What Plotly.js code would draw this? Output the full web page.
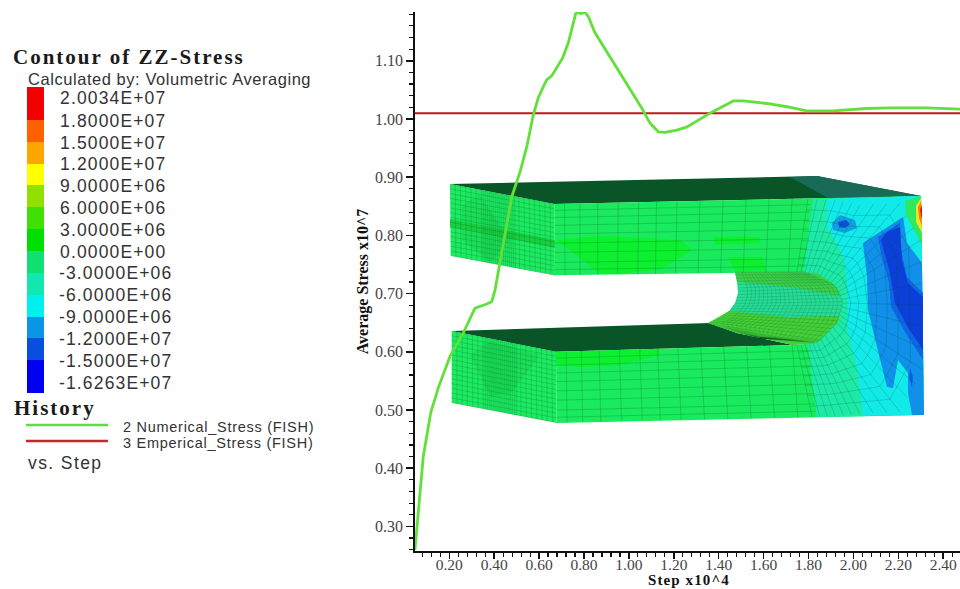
<!DOCTYPE html>
<html><head><meta charset="utf-8">
<script src="https://cdn.plot.ly/plotly-3.0.1.min.js"></script>
<style>html,body{margin:0;padding:0;background:#fff}#chart{width:960px;height:589px}</style>
</head><body><div id="chart"></div>
<script>
// ---------- history curves (Step x10^4, Average Stress x10^7)
const stepNumerical = [0.047,0.0575,0.0695,0.084,0.102,0.117,0.151,0.203,0.265,0.3145,0.367,0.389,0.4036,0.426,0.4557,0.478,0.515,0.545,0.574,0.596,0.622,0.634,0.656,0.678,0.705,0.73,0.748,0.763,0.77,0.785,0.804,0.819,0.849,0.916,0.99,1.057,1.094,1.131,1.161,1.213,1.257,1.294,1.361,1.42,1.465,1.51,1.628,1.703,1.792,1.91,2.059,2.163,2.327,2.475];
const stressNumerical = [0.2595,0.306,0.345,0.42,0.4605,0.495,0.538,0.592,0.6345,0.675,0.682,0.686,0.706,0.7526,0.8144,0.866,0.909,0.952,1.007,1.036,1.058,1.067,1.074,1.088,1.105,1.131,1.158,1.181,1.183,1.181,1.183,1.176,1.148,1.107,1.062,1.019,0.993,0.978,0.977,0.981,0.986,0.995,1.010,1.022,1.031,1.031,1.026,1.021,1.014,1.014,1.018,1.019,1.019,1.017];
const stepEmpirical = [0.047,2.475];
const stressEmpirical = [1.01,1.01];

// ---------- axis ticks
const xTicks = [0.2,0.4,0.6,0.8,1.0,1.2,1.4,1.6,1.8,2.0,2.2,2.4];
const xTickText = ['0.20','0.40','0.60','0.80','1.00','1.20','1.40','1.60','1.80','2.00','2.20','2.40'];
const yTicks = [0.3,0.4,0.5,0.6,0.7,0.8,0.9,1.0,1.1];
const yTickText = ['0.30','0.40','0.50','0.60','0.70','0.80','0.90','1.00','1.10'];

// ---------- contour legend
const contourLabels = ['2.0034E+07','1.8000E+07','1.5000E+07','1.2000E+07','9.0000E+06','6.0000E+06','3.0000E+06','0.0000E+00','-3.0000E+06','-6.0000E+06','-9.0000E+06','-1.2000E+07','-1.5000E+07','-1.6263E+07'];
const bandEdges = [0,1.5,2.5,3.5,4.5,5.5,6.5,7.5,8.5,9.5,10.5,11.5,12.5,14];
const bandColors = ['#0000f0','#0a50e0','#0a96e6','#00f0f0','#10e8b0','#10e070','#00e000','#40e000','#90e000','#ffff00','#ffa500','#ff6000','#f00000'];

// ---------- model geometry (inset axes units), lists of [x,y]
const upperSide = [[450,184],[554.3,204],[555,275.3],[450.7,255.7]];
const upperSideBand = [[450,219],[555,240],[555,248],[450,227]];
const upperSidePatch = [[462,205],[480,195],[510,240],[490,262],[462,240]];
const upperTop = [[450,184],[817,176],[921,196],[554.3,204]];
const upperTopTeal = [[790,177],[817,176],[921,196],[830,199]];
const lowerSide = [[451.7,331],[556,351.7],[556.7,422.7],[451.7,402.7]];
const lowerSidePatch = [[470,355],[490,341],[540,355],[512,392],[490,396]];
const lowerTop = [[451.7,331],[710,323],[737,333],[793,345],[556,351.7]];
const frontFace = [[554.3,204],[921,196],[924,415],[556.7,423],[556,351.7],[793,345],[817,343],[837,323],[843,303],[835,285],[817,273],[793,272],[555,275.3]];
const brightUpperA = [[555,240],[600,236],[680,240],[692,250],[662,269],[620,274],[600,274],[570,250]];
const brightUpperB = [[713,237],[760,237],[760,243],[715,245]];
const brightUpperC = [[728,257],[763,257],[766,270],[735,271]];
const brightLower = [[556,352],[660,349],[660,355],[620,365],[580,367],[556,365]];
const tealZone = [[813,199],[921,196],[924,415],[817,417],[812,380],[808,345],[800,300],[808,240]];
const cyanZone = [[827,199],[921,196],[924,415],[863,415],[857,367],[847,327],[848,300],[845,263],[837,243],[827,227]];
const lightBlueZone = [[903,217],[863,243],[867,277],[868,310],[877,347],[887,387],[893,388],[898,360],[908,373],[908,393],[912,415],[924,415],[923,360],[922,263],[907,243]];
const midBlueZone = [[900,223],[878,237],[881,253],[889,283],[891,307],[905,332],[923,360],[923,293],[907,277],[901,250]];
const darkBlueZone = [[887,232],[900,227],[902,260],[908,283],[923,297],[923,350],[907,326],[895,303],[890,273],[881,240]];
const spotOuter = [[832,223],[840,215],[855,220],[857,228],[845,233],[833,230]];
const spotInner = [[838,222],[846,220],[850,224],[845,228],[839,227]];
const sliverBlue = [[910,368],[913,377],[912,387],[909,377]];
const hotGreen = [[921,196],[905,201],[906,215],[915,232],[922,245]];
const hotYellow = [[921,198],[916,206],[916,222],[922,233]];
const hotOrange = [[921,201],[918,207],[919,218],[922,226]];
const hotRed = [[922,205],[920,210],[921,215],[922,219]];
const boreNear = [[735,272],[737,282],[738,293],[735,303],[729,311],[720,318],[708,323]];
const bore = [[735,272],[793,272],[817,273],[835,285],[843,303],[837,323],[817,343],[793,345],[737,333],[708,323],[720,318],[729,311],[735,303],[738,293],[737,282]];
const boreTop = [[735,272],[793,272],[817,273],[835,285],[841,296],[790,287],[737,282]];
const boreBottom = [[708,323],[729,311],[790,317],[840,316],[837,323],[817,343],[793,345],[737,333]];
const boreFar = [[805,272],[835,285],[843,303],[837,323],[817,343],[760,338]];

const regions = [
 [upperTop,'#0a5528'],[upperTopTeal,'#1a6a58'],[lowerTop,'#0a5528'],
 [upperSide,'#1cea60'],[upperSidePatch,'#1ade58'],[upperSideBand,'#18cf40'],
 [lowerSide,'#1cea60'],[lowerSidePatch,'#1ade58'],
 [frontFace,'#1aea5e'],[brightUpperA,'#0cf030'],[brightUpperB,'#0cf030'],[brightUpperC,'#0cf030'],[brightLower,'#0cf030'],
 [tealZone,'#1eeaa8'],[cyanZone,'#12eaea'],[lightBlueZone,'#1090e8'],[midBlueZone,'#0f66e4'],[darkBlueZone,'#0a40d8'],
 [spotOuter,'#10a0e0'],[spotInner,'#1050d8'],[sliverBlue,'#0a60e0'],
 [hotGreen,'#30e860'],[hotYellow,'#e8e820'],[hotOrange,'#ff8000'],[hotRed,'#e81010'],
 [bore,'#26dc96'],[boreTop,'#3cd04a'],[boreBottom,'#44d038']
];

const traces = [];
regions.forEach(r => traces.push({type:'scatter',mode:'lines',xaxis:'x2',yaxis:'y2',hoverinfo:'skip',showlegend:false,
  x:r[0].map(p=>p[0]).concat(r[0][0][0]),y:r[0].map(p=>p[1]).concat(r[0][0][1]),fill:'toself',fillcolor:r[1],line:{width:0,color:r[1]}}));

// mesh drawn as polylines between the edges of each face
function lerp(a,b,t){return [a[0]+(b[0]-a[0])*t,a[1]+(b[1]-a[1])*t];}
function along(path,s){const f=s*(path.length-1),i=Math.min(Math.floor(f),path.length-2);return lerp(path[i],path[i+1],f-i);}
function mesh(lines,color,width){
  const x=[],y=[];
  lines.forEach(l=>{l.forEach(p=>{x.push(p[0]);y.push(p[1]);});x.push(null);y.push(null);});
  traces.push({type:'scatter',mode:'lines',xaxis:'x2',yaxis:'y2',hoverinfo:'skip',showlegend:false,x,y,line:{color,width}});
}
function quadLines(q,rows,cols){
  const out=[];
  rows.forEach(t=>out.push([lerp(q[0],q[3],t),lerp(q[1],q[2],t)]));
  cols.forEach(t=>out.push([lerp(q[0],q[1],t),lerp(q[3],q[2],t)]));
  return out;
}
function steps(a,b,n){const o=[];for(let i=0;i<=n;i++)o.push(a+(b-a)*i/n);return o;}
const sideCols = [].concat(steps(0.05,0.3,5),steps(0.32,0.62,16),steps(0.66,0.96,6));
mesh(quadLines(upperSide,steps(0,1,15),sideCols),'rgba(0,70,25,0.3)',0.6);
mesh(quadLines(lowerSide,steps(0,1,15),sideCols),'rgba(0,70,25,0.3)',0.6);
const frontCols = [0.04,0.1,0.17,0.25,0.33,0.4,0.48,0.57,0.66,0.75,0.84,0.93];
const frontUpper = [[554.3,204],[810,198],[806,272],[555,275.3]];
const frontLower = [[556,351.7],[810,344],[816,417],[556.7,423]];
mesh(quadLines(frontUpper,[0.09,0.19,0.3,0.42,0.55,0.68,0.82,0.92],frontCols),'rgba(0,80,30,0.36)',0.6);
mesh(quadLines(frontLower,[0.09,0.19,0.3,0.42,0.55,0.68,0.82,0.92],frontCols),'rgba(0,80,30,0.36)',0.6);
const fanOuter = [[808,199],[835,200],[860,205],[900,203],[921,240],[922,305],[923,370],[900,412],[860,414],[835,416],[812,417]];
const fanArc = [[797,272],[817,273],[835,285],[843,303],[837,323],[817,343],[797,345]];
const fanRays=[], fanRings=[];
steps(0,1,30).forEach(s=>{fanRays.push([along(fanArc,s),along(fanOuter,s)]);});
[0.1,0.2,0.31,0.43,0.56,0.7,0.85].forEach(t=>{fanRings.push(steps(0,1,30).map(s=>lerp(along(fanArc,s),along(fanOuter,s),t)));});
mesh(fanRays.concat(fanRings),'rgba(0,70,50,0.34)',0.6);
const boreLines=[];
const boreNearFull = boreNear.concat([[737,333],[760,338]]);
steps(0,1,26).forEach(s=>boreLines.push([along(boreNearFull,s),along(boreFar,s)]));
steps(0.1,1,22).forEach(t=>boreLines.push(steps(0,1,18).map(s=>lerp(along(boreNearFull,s),along(boreFar,s),t))));
mesh(boreLines,'rgba(0,60,30,0.32)',0.45);

// history curves on the main axes, above the model
traces.push({type:'scatter',mode:'lines',x:stepEmpirical,y:stressEmpirical,name:'3 Emperical_Stress (FISH)',showlegend:false,line:{color:'#c2181c',width:2}});
traces.push({type:'scatter',mode:'lines',x:stepNumerical,y:stressNumerical,name:'2 Numerical_Stress (FISH)',showlegend:false,line:{color:'#62e03a',width:2.8}});
// contour colour bar
traces.push({type:'heatmap',xaxis:'x3',yaxis:'y3',x:[0,1],y:bandEdges,z:bandColors.map((c,i)=>[i]),zmin:0,zmax:12,showscale:false,hoverinfo:'skip',
  colorscale:bandColors.map((c,i)=>[i/12,c])});

const W=960,H=589;
const px=v=>v/W, py=v=>1-v/H;
const sans='"Liberation Sans",Arial,sans-serif', serif='"Liberation Serif","Times New Roman",serif';
function note(text,x,y,size,family,color,spacing,bold){
  const inner = '<span style="letter-spacing:'+spacing+'px">'+(bold?'<b>'+text+'</b>':text)+'</span>';
  return {text:inner,xref:'paper',yref:'paper',x:px(x-2),y:py(y),xanchor:'left',yanchor:'middle',showarrow:false,align:'left',font:{family,size,color}};
}
const labelY=[98.3,121,142.7,164,186,207.7,230,251.7,273.3,295,316.7,339,361,382.7];
const annotations=[
 note('Contour of ZZ-Stress',13,57,21,serif,'#1a1a1a',2,true),
 note('Calculated by: Volumetric Averaging',28,79,16.5,sans,'#333',0.55,false),
 note('History',14,407.7,21,serif,'#1a1a1a',2,true),
 note('2 Numerical_Stress (FISH)',123,427,14.5,sans,'#333',0.72,false),
 note('3 Emperical_Stress (FISH)',123,443,14.5,sans,'#333',0.72,false),
 note('vs. Step',28,463,17.5,sans,'#333',1.4,false),
 note('Step x10^4',648,579.5,15,serif,'#111',1.1,true)
].concat(contourLabels.map((t,i)=>note(t,t[0]==='-'?59:60,labelY[i],17.5,sans,'#333',1.15,false)));

const shapes=[
 {type:'line',xref:'paper',yref:'paper',x0:px(26),x1:px(108),y0:py(425),y1:py(425),line:{color:'#62d84a',width:2.5}},
 {type:'line',xref:'paper',yref:'paper',x0:px(26),x1:px(108),y0:py(441),y1:py(441),line:{color:'#c2282c',width:2.5}}
];

const layout={
 width:W,height:H,margin:{l:0,r:0,t:0,b:0},paper_bgcolor:'#fff',plot_bgcolor:'rgba(0,0,0,0)',showlegend:false,
 annotations,shapes,
 xaxis:{domain:[415/W,1],range:[0.0472,2.4747],overlaying:'x2',anchor:'y',tickmode:'array',tickvals:xTicks,ticktext:xTickText,ticks:'outside',ticklen:6,tickwidth:1.5,tickcolor:'#111',
   showline:true,linecolor:'#111',linewidth:1.5,showgrid:false,zeroline:false,tickfont:{family:serif,size:15.5,color:'#444'},ticklabelstandoff:-7,
   minor:{tick0:0.2,dtick:0.04,ticks:'outside',ticklen:4,tickwidth:1.2,tickcolor:'#111',showgrid:false}},
 yaxis:{domain:[1-551/H,1-12/H],range:[0.2577,1.1838],overlaying:'y2',anchor:'x',tickmode:'array',tickvals:yTicks,ticktext:yTickText,ticks:'outside',ticklen:6.5,tickwidth:1.5,tickcolor:'#111',
   showline:true,linecolor:'#111',linewidth:2.2,showgrid:false,zeroline:false,tickfont:{family:serif,size:16,color:'#444'},
   minor:{tick0:0.3,dtick:0.02,ticks:'outside',ticklen:4,tickwidth:1.2,tickcolor:'#111',showgrid:false},
   title:{text:'<b>Average Stress x10^7</b>',standoff:3,font:{family:serif,size:16,color:'#111'}}},
 xaxis2:{domain:[415/W,1],range:[415,960],visible:false,anchor:'y2'},
 yaxis2:{domain:[1-551/H,1-12/H],range:[551,12],visible:false,anchor:'x2'},
 xaxis3:{domain:[27/W,44/W],range:[0,1],visible:false,anchor:'y3'},
 yaxis3:{domain:[1-393/H,1-87/H],range:[0,14],visible:false,anchor:'x3'}
};
Plotly.newPlot('chart',traces,layout,{displayModeBar:false,staticPlot:true});
</script></body></html>
